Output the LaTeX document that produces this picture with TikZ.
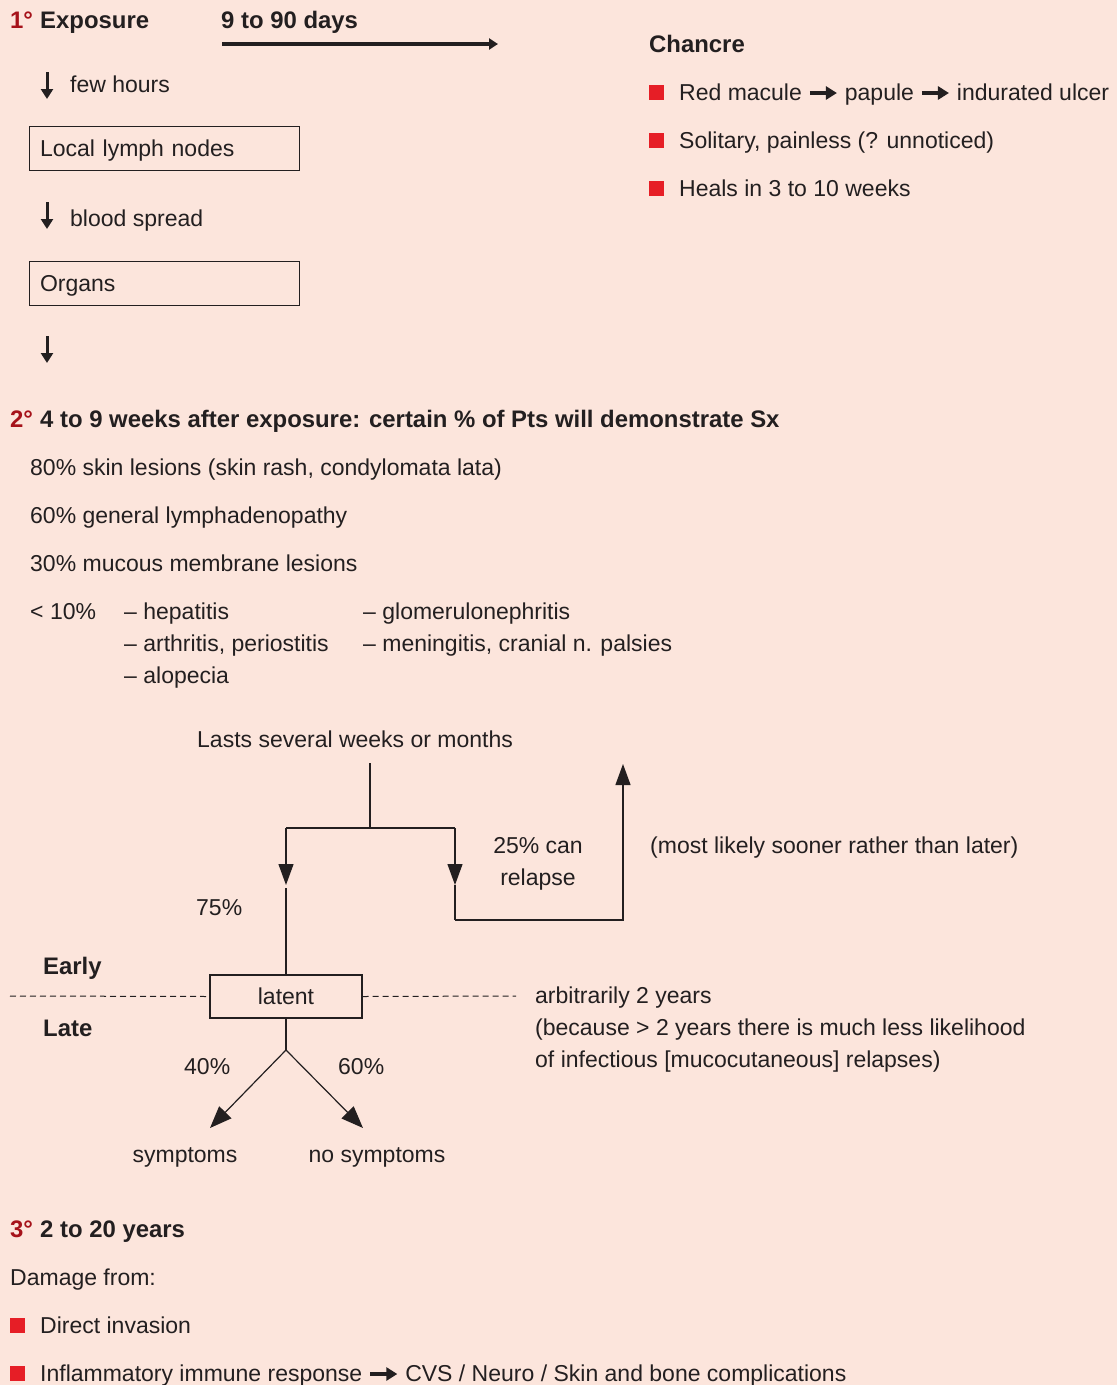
\documentclass[tikz,border=0pt]{standalone}
\usepackage{fontspec}
\setmainfont{Liberation Sans}
\usetikzlibrary{arrows.meta}
\definecolor{bg}{RGB}{252,229,220}
\definecolor{ink}{RGB}{35,31,32}
\definecolor{numred}{RGB}{166,18,26}
\definecolor{bulred}{RGB}{230,30,38}
\newsavebox\arrbox
\sbox\arrbox{\tikz[baseline=-7pt]\draw[draw=ink,line width=3.2pt,-{Triangle[length=11pt,width=13pt]}](0,0)--(27pt,0);}
\begin{document}
\begin{tikzpicture}[x=1pt,y=-1pt,
 txt/.style={anchor=base west,inner sep=0pt,text=ink,font=\fontsize{23}{28}\selectfont},
 btxt/.style={txt,font=\fontsize{23.9}{28}\selectfont\bfseries},
 ctxt/.style={txt,anchor=base},
 boxnode/.style={draw=ink,line width=1.1pt,inner sep=0pt,text=ink,font=\fontsize{23}{28}\selectfont,text height=16.5pt,text depth=0pt},
 bul/.style={fill=bulred,minimum size=14.5pt,inner sep=0pt,anchor=south west},
 dnarr/.style={draw=ink,line width=3pt,-{Triangle[length=10pt,width=12pt]}},
 line/.style={draw=ink,line width=1.2pt},
 tri/.style={line,-{Triangle[length=21pt,width=15pt]}},
 tritwo/.style={line,-{Triangle[length=22pt,width=17pt]}},
]
\fill[bg] (0,0) rectangle (1117,1385);
\useasboundingbox (0,0) rectangle (1117,1385);

% ---- primary
\node[btxt,text=numred] (p1) at (10,28) {1°};
\node[btxt] (expo) at (40,28) {Exposure};
\node[btxt] (days) at (221,28) {9 to 90 days};
\coordinate (daysA) at (222,44);
\coordinate (daysB) at (498,44);
\draw[draw=ink,line width=3.2pt,-{Triangle[length=9pt,width=11pt]}] (daysA) -- (daysB);

\coordinate (a1s) at (47,72); \coordinate (a1e) at (47,99);
\draw[dnarr] (a1s) -- (a1e);
\node[txt] (few) at (70,92) {few hours};
\node[boxnode,anchor=north west,minimum width=270pt,minimum height=44pt,text width=248pt,align=left] (lymph) at (28.5,125.5) {Local lymph nodes};
\coordinate (a2s) at (47,202); \coordinate (a2e) at (47,229);
\draw[dnarr] (a2s) -- (a2e);
\node[txt] (blood) at (70,226) {blood spread};
\node[boxnode,anchor=north west,minimum width=270pt,minimum height=43.5pt,text width=248pt,align=left] (organs) at (28.5,261) {Organs};
\coordinate (a3s) at (47,336); \coordinate (a3e) at (47,363);
\draw[dnarr] (a3s) -- (a3e);

% ---- chancre
\node[btxt] (chancre) at (649,52) {Chancre};
\node[bul] (b1) at (649,100) {};
\node[txt] (c1) at (679,100) {Red macule \usebox\arrbox{} papule \usebox\arrbox{} indurated ulcer};
\node[bul] (b2) at (649,148) {};
\node[txt] (c2) at (679,148) {Solitary, painless (? unnoticed)};
\node[bul] (b3) at (649,196) {};
\node[txt] (c3) at (679,196) {Heals in 3 to 10 weeks};

% ---- secondary
\node[btxt,text=numred] (p2) at (10,427) {2°};
\node[btxt] (sec) at (40,427) {4 to 9 weeks after exposure: certain \% of Pts will demonstrate Sx};
\node[txt] (s1) at (30,475) {80\% skin lesions (skin rash, condylomata lata)};
\node[txt] (s2) at (30,523) {60\% general lymphadenopathy};
\node[txt] (s3) at (30,571) {30\% mucous membrane lesions};
\node[txt] (s4) at (30,619) {< 10\%};
\node[txt] (h1) at (124,619) {– hepatitis};
\node[txt] (h2) at (124,651) {– arthritis, periostitis};
\node[txt] (h3) at (124,683) {– alopecia};
\node[txt] (g1) at (363,619) {– glomerulonephritis};
\node[txt] (g2) at (363,651) {– meningitis, cranial n. palsies};

% ---- latent flow
\node[txt] (lasts) at (197,747) {Lasts several weeks or months};
\coordinate (top) at (370,763);
\coordinate (split) at (370,828);
\coordinate (L) at (286,828);
\coordinate (R) at (455,828);
\coordinate (Lm) at (286,885);
\coordinate (Rm) at (455,885);
\coordinate (Rb) at (455,920);
\coordinate (Ub) at (623,920);
\coordinate (Ut) at (623,764);
\draw[line] (top) -- (split);
\draw[line] (L) -- (R);
\draw[tri] (L) -- (Lm);
\draw[tri] (R) -- (Rm);
\draw[line] (Rm) -- (Rb);
\draw[tri] (Rb) -- (Ub) -- (Ut);
\node[ctxt] (can1) at (538,853) {25\% can};
\node[ctxt] (can2) at (538,885) {relapse};
\node[txt] (likely) at (650,853) {(most likely sooner rather than later)};
\node[txt] (p75) at (196,915) {75\%};

\node[boxnode,minimum width=152pt,minimum height=43pt] (latent) at (286,996.5) {latent};
\draw[line] ([yshift=-3pt]Lm) -- (latent.north);
\node[btxt] (early) at (43,974) {Early};
\node[btxt] (late) at (43,1036) {Late};
\coordinate (dl) at (10,996);
\coordinate (dr) at (516,996);
\draw[draw=ink,line width=1pt,dash pattern=on 6pt off 4pt] (dl) -- (latent.west);
\draw[draw=ink,line width=1pt,dash pattern=on 6pt off 4pt] (latent.east) -- (dr);
\node[txt] (arb1) at (535,1003) {arbitrarily 2 years};
\node[txt] (arb2) at (535,1035) {(because > 2 years there is much less likelihood};
\node[txt] (arb3) at (535,1067) {of infectious [mucocutaneous] relapses)};

\coordinate (fork) at (286,1050);
\coordinate (symT) at (210,1128);
\coordinate (nosT) at (363,1128);
\draw[line] (latent.south) -- (fork);
\draw[tritwo] (fork) -- (symT);
\draw[tritwo] (fork) -- (nosT);
\node[txt] (p40) at (184,1074) {40\%};
\node[txt] (p60) at (338,1074) {60\%};
\node[ctxt] (sym) at (185,1162) {symptoms};
\node[ctxt] (nosym) at (377,1162) {no symptoms};

% ---- tertiary
\node[btxt,text=numred] (p3) at (10,1237) {3°};
\node[btxt] (ter) at (40,1237) {2 to 20 years};
\node[txt] (dmg) at (10,1285) {Damage from:};
\node[bul] (b4) at (10,1333) {};
\node[txt] (d1) at (40,1333) {Direct invasion};
\node[bul] (b5) at (10,1381) {};
\node[txt] (d2) at (40,1381) {Inflammatory immune response \usebox\arrbox{} CVS / Neuro / Skin and bone complications};
\end{tikzpicture}
\end{document}
